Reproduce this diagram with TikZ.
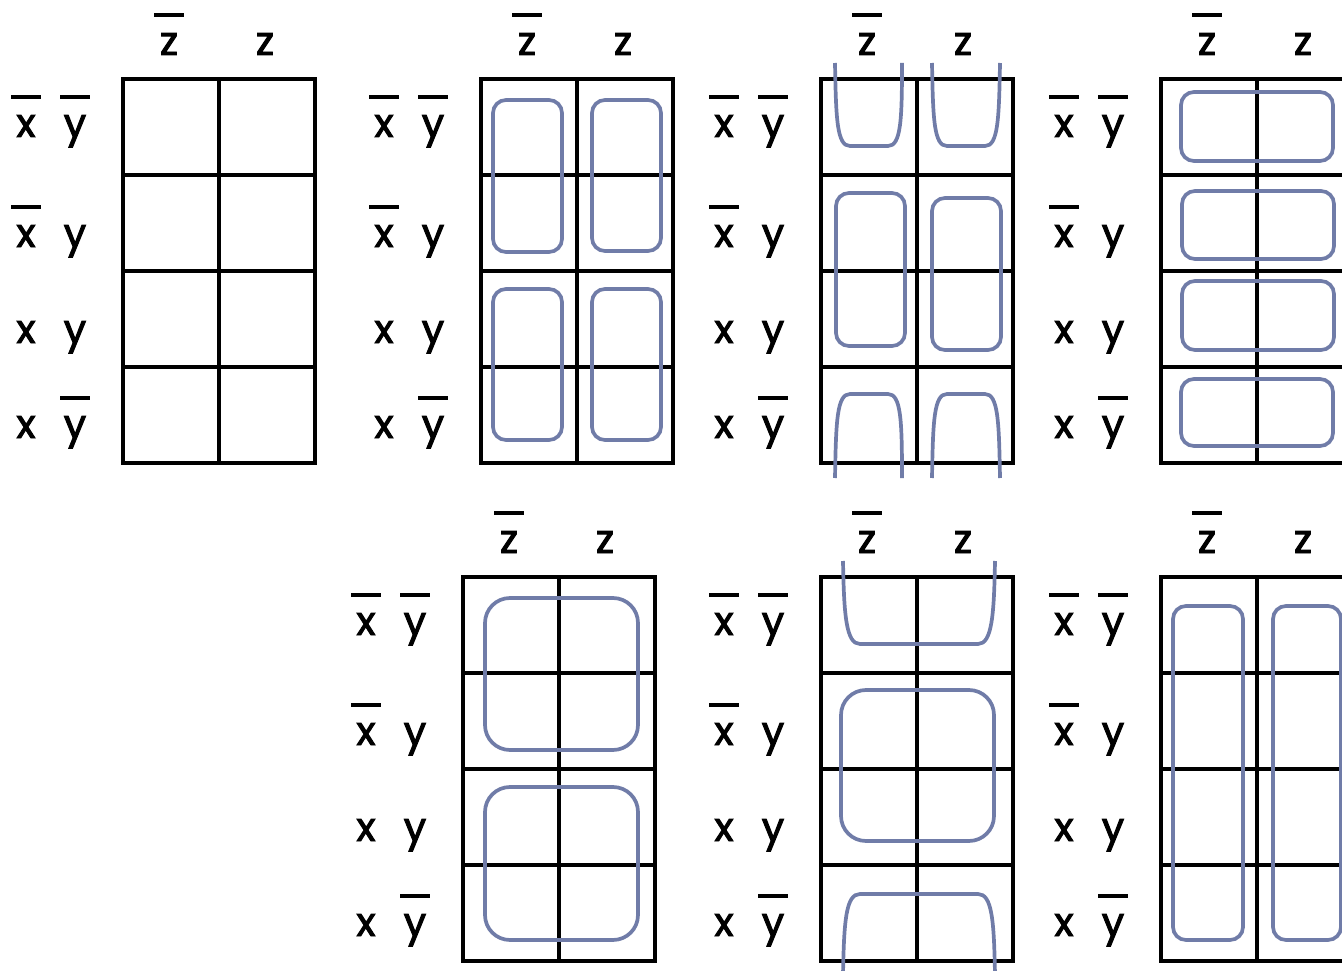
\documentclass[tikz,border=0pt]{standalone}
\usepackage{fontspec}
\setmainfont{Poppins}
\newfontfamily\lblfont{Poppins}[FakeBold=2.4]
\usepackage{xcolor}
\usepackage{tikz}

\definecolor{loopblue}{RGB}{112,124,168}

\tikzset{
  cell/.style={line width=3.9pt,black},
  bar/.style={line width=3.4pt,black},
  lbl/.style={anchor=base,inner sep=0pt,font=\lblfont\fontsize{40}{40}\selectfont},
  grp/.style={line width=3.7pt,loopblue,rounded corners=13pt},
  biggrp/.style={grp,rounded corners=25pt},
  edgegrp/.style={line width=3.7pt,loopblue}
}

\newcommand\negbar[1]{\draw[bar] ([xshift=-15pt,yshift=40pt]#1.base) -- ([xshift=15pt,yshift=40pt]#1.base);}

% one map: #1 prefix, #2 left, #3 top (pixels, y down)
\newcommand\kmap[3]{%
  \begin{scope}[shift={(#2,#3)},name prefix=#1-]
    % column labels
    \node[lbl] (zn) at (46,-24) {z}; \negbar{zn}
    \node[lbl] (z) at (142,-24) {z};
    % row labels
    \node[lbl] (x1) at (-97,58) {x}; \negbar{x1}
    \node[lbl] (y1) at (-48,58) {y}; \negbar{y1}
    \node[lbl] (x2) at (-97,168) {x}; \negbar{x2}
    \node[lbl] (y2) at (-48,168) {y};
    \node[lbl] (x3) at (-97,264) {x};
    \node[lbl] (y3) at (-48,264) {y};
    \node[lbl] (x4) at (-97,359) {x};
    \node[lbl] (y4) at (-48,359) {y}; \negbar{y4}
    % cells
    \draw[cell] (0,0) rectangle (192,384);
    \draw[cell] (96,0) -- (96,384);
    \foreach \r in {96,192,288} \draw[cell] (0,\r) -- (192,\r);
  \end{scope}}

\begin{document}
\begin{tikzpicture}[x=1pt,y=-1pt]
  \useasboundingbox (0,0) rectangle (1342,971);
  \clip (0,0) rectangle (1342,971);

  % Top row
  \kmap{m1}{123}{79}
  \kmap{m2}{481}{79}
  \kmap{m3}{821}{79}
  \kmap{m4}{1161}{79}
  % Bottom row
  \kmap{m5}{463}{577}
  \kmap{m6}{821}{577}
  \kmap{m7}{1161}{577}

  % Map 2
  \draw[grp] (493,100) rectangle (562,252);
  \draw[grp] (592,100) rectangle (661,251);
  \draw[grp] (493,289) rectangle (562,440);
  \draw[grp] (592,289) rectangle (661,440);

  % Map 3
  \draw[edgegrp] (835,63) .. controls (836,120) and (837,146) .. (850,146) -- (888,146) .. controls (901,146) and (902,120) .. (902,63);
  \draw[edgegrp] (932,63) .. controls (933,120) and (934,146) .. (947,146) -- (985,146) .. controls (998,146) and (999,120) .. (1000,63);
  \draw[grp] (836,193) rectangle (905,346);
  \draw[grp] (932,198) rectangle (1001,350);
  \draw[edgegrp] (835,478) .. controls (836,420) and (837,394) .. (850,394) -- (888,394) .. controls (901,394) and (902,420) .. (902,478);
  \draw[edgegrp] (932,478) .. controls (933,420) and (934,394) .. (947,394) -- (985,394) .. controls (998,394) and (999,420) .. (1000,478);

  % Map 4
  \draw[grp] (1181,92) rectangle (1333,161);
  \draw[grp] (1182,191) rectangle (1334,259);
  \draw[grp] (1182,281) rectangle (1334,350);
  \draw[grp] (1181,379) rectangle (1333,446);

  % Map 5
  \draw[biggrp] (485,598) rectangle (638,750);
  \draw[biggrp] (485,787) rectangle (638,940);

  % Map 6
  \draw[edgegrp] (843,561) .. controls (844,615) and (846,644) .. (860,644) -- (978,644) .. controls (992,644) and (994,615) .. (995,561);
  \draw[biggrp] (841,690) rectangle (994,841);
  \draw[edgegrp] (843,975) .. controls (844,920) and (846,894) .. (860,894) -- (978,894) .. controls (992,894) and (994,920) .. (995,975);

  % Map 7
  \draw[grp] (1173,606) rectangle (1243,940);
  \draw[grp] (1273,606) rectangle (1341,940);
\end{tikzpicture}
\end{document}
